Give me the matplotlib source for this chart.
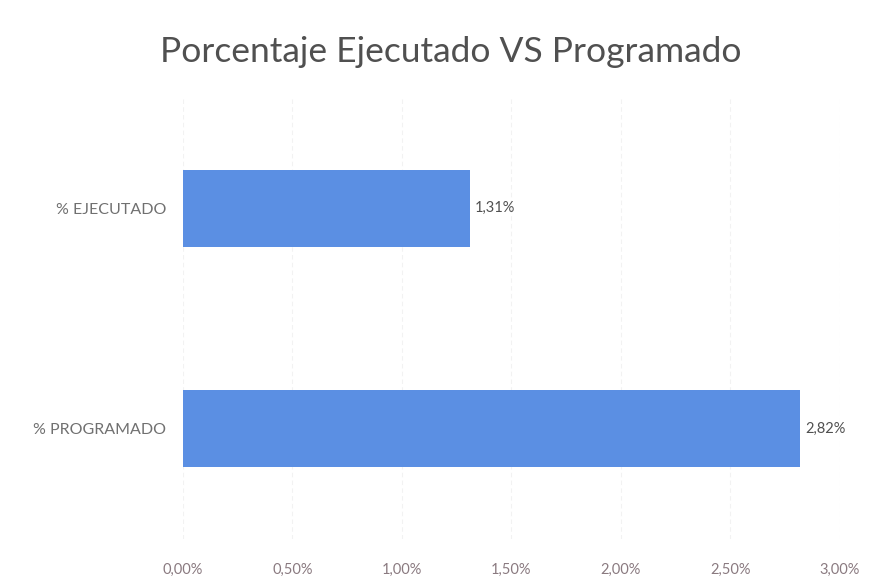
import matplotlib
matplotlib.use("Agg")
import matplotlib.pyplot as plt
from matplotlib.ticker import FuncFormatter

categories = ["% EJECUTADO", "% PROGRAMADO"]
values = [1.31, 2.82]
x_ticks = [0.0, 0.5, 1.0, 1.5, 2.0, 2.5, 3.0]
title = "Porcentaje Ejecutado VS Programado"

plt.rcParams['font.family'] = ['Lato', 'DejaVu Sans']

fig = plt.figure(figsize=(8.71, 5.86), dpi=100)
ax = fig.add_axes([0.210, 0.080, 0.754, 0.753])

bar_color = "#5B8FE3"
ypos = list(range(len(categories)))
ax.barh(ypos, values, height=0.35, color=bar_color, zorder=3)
ax.set_ylim(len(categories) - 0.5, -0.5)
ax.set_yticks(ypos)
ax.set_yticklabels(categories, fontsize=11.5, color="#707070")
ax.set_xlim(0, 3.0)
ax.set_xticks(x_ticks)
ax.xaxis.set_major_formatter(FuncFormatter(lambda v, p: f"{v:.2f}%".replace(".", ",")))
ax.tick_params(axis='x', labelsize=10.5, colors="#8a7a80", length=0, pad=17)
ax.tick_params(axis='y', length=0, pad=12)
ax.grid(axis='x', color="#f2f2f2", linestyle=(0, (4, 3)), linewidth=0.8, zorder=0)
for s in ax.spines.values():
    s.set_visible(False)

for y, v in zip(ypos, values):
    ax.text(v + 0.025, y, f"{v:.2f}%".replace(".", ","), va="center", ha="left",
            fontsize=10.5, color="#505050")

fig.text(0.518, 0.912, title, ha="center", va="center", fontsize=25.5, color="#505050")

fig.savefig("out.png", dpi=100, facecolor="white")
